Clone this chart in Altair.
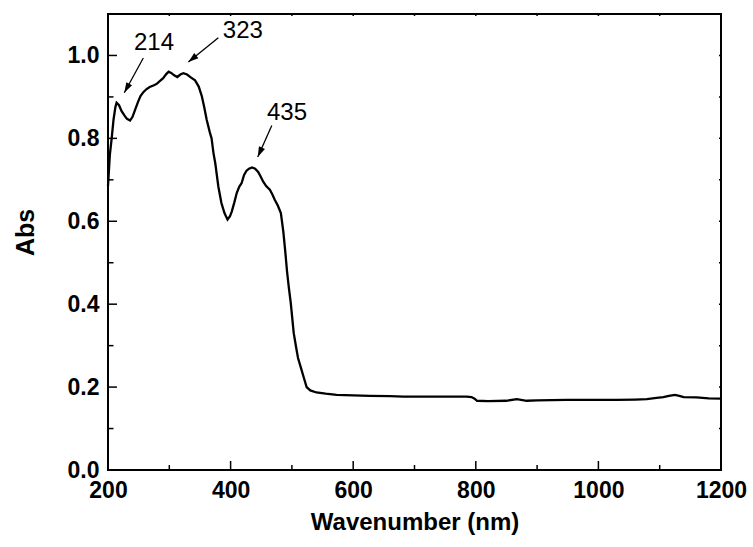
import altair as alt
import pandas as pd

# Absorption spectrum: wavelength (nm) and absorbance
wavelength = [200, 203, 206, 209, 212, 214, 218, 222, 227, 231, 236, 240, 244, 249, 253,
              258, 263, 268, 275, 280, 285, 290, 295, 299, 303, 308, 313, 318, 323, 329,
              335, 342, 348, 353, 357, 361, 366, 369, 372, 375, 380, 385, 390, 395, 399,
              402, 406, 410, 414, 418, 422, 426, 430, 435, 440, 445, 449, 453, 458, 464,
              468, 472, 477, 482, 486, 489, 492, 495, 498, 503, 507, 510, 515, 519, 524,
              530, 540, 555, 573, 600, 627, 660, 682, 710, 750, 785, 793, 798, 802, 820,
              850, 867, 883, 900, 948, 1000, 1030, 1060, 1079, 1095, 1106, 1115, 1125, 1132,
              1139, 1160, 1180, 1200]
absorbance = [0.685, 0.760, 0.800, 0.845, 0.875, 0.886, 0.880, 0.866, 0.855, 0.847, 0.843,
              0.852, 0.868, 0.888, 0.902, 0.912, 0.919, 0.924, 0.928, 0.932, 0.939, 0.945,
              0.955, 0.961, 0.958, 0.952, 0.948, 0.954, 0.957, 0.954, 0.947, 0.940, 0.925,
              0.902, 0.875, 0.845, 0.815, 0.800, 0.765, 0.740, 0.684, 0.644, 0.620, 0.604,
              0.612, 0.624, 0.645, 0.668, 0.683, 0.692, 0.712, 0.722, 0.727, 0.730, 0.727,
              0.719, 0.708, 0.696, 0.685, 0.676, 0.665, 0.652, 0.638, 0.620, 0.575, 0.530,
              0.480, 0.440, 0.405, 0.330, 0.295, 0.270, 0.245, 0.225, 0.200, 0.192, 0.187,
              0.184, 0.181, 0.180, 0.179, 0.178, 0.177, 0.177, 0.177, 0.177, 0.176, 0.172,
              0.167, 0.166, 0.167, 0.171, 0.167, 0.168, 0.169, 0.169, 0.169, 0.170, 0.171,
              0.174, 0.176, 0.179, 0.181, 0.179, 0.176, 0.175, 0.173, 0.172]

# Peak annotations: label text position and arrow start/end
peak_labels = ["214", "323", "435"]
label_x = [275, 420, 492]
label_y = [1.031, 1.058, 0.862]
arrow_x1 = [257.6, 380.0, 467.2]
arrow_y1 = [0.994, 1.043, 0.831]
arrow_x2 = [226.6, 331.1, 444.3]
arrow_y2 = [0.910, 0.984, 0.755]
arrow_angle = [208.5, 230.9, 204.1]

x_major = [200, 400, 600, 800, 1000, 1200]
x_minor = [300, 500, 700, 900, 1100]
x_all = list(range(200, 1201, 100))
y_major = [0.0, 0.2, 0.4, 0.6, 0.8, 1.0]
y_minor = [0.1, 0.3, 0.5, 0.7, 0.9]
y_all = [round(0.1 * i, 1) for i in range(0, 12)]

X_DOM = [200, 1200]
Y_DOM = [0, 1.1]
W, H = 613, 456
FONT = "Liberation Sans"

# data units per pixel, used to turn tick lengths into scale units
DX = (X_DOM[1] - X_DOM[0]) / W
DY = (Y_DOM[1] - Y_DOM[0]) / H

spec = pd.DataFrame({"nm": wavelength, "abs": absorbance})
ann = pd.DataFrame({"label": peak_labels, "lx": label_x, "ly": label_y,
                    "x1": arrow_x1, "y1": arrow_y1, "x2": arrow_x2, "y2": arrow_y2,
                    "angle": arrow_angle})

xs = alt.Scale(domain=X_DOM, nice=False, zero=False)
ys = alt.Scale(domain=Y_DOM, nice=False)

x_axis = alt.Axis(values=x_major, format="d", title="Wavenumber (nm)", grid=False,
                  domain=False, ticks=False, labelFlush=False, labelFont=FONT,
                  labelFontSize=23, labelFontWeight="bold", labelColor="black",
                  labelPadding=9, titleFont=FONT, titleFontSize=24, titleFontWeight="bold",
                  titleColor="black", titleY=52, titleBaseline="middle")
y_axis = alt.Axis(values=y_major, format=".1f", title="Abs", grid=False, domain=False,
                  ticks=False, labelFlush=False, labelFont=FONT, labelFontSize=23,
                  labelFontWeight="bold", labelColor="black", labelPadding=9,
                  titleFont=FONT, titleFontSize=25, titleFontWeight="bold",
                  titleColor="black", titleX=-83, titleY=218, titleBaseline="middle",
                  titleAlign="center")

curve = alt.Chart(spec).mark_line(color="black", strokeWidth=2.3).encode(
    x=alt.X("nm:Q", scale=xs, axis=x_axis),
    y=alt.Y("abs:Q", scale=ys, axis=y_axis),
)


def xticks(vals, base, length_px):
    df = pd.DataFrame({"tx": vals, "ty0": [base] * len(vals),
                       "ty1": [base + length_px * DY] * len(vals)})
    return alt.Chart(df).mark_rule(color="black", strokeWidth=1.5).encode(
        x=alt.X("tx:Q", scale=xs), y=alt.Y("ty0:Q", scale=ys), y2="ty1:Q")


def yticks(vals, base, length_px):
    df = pd.DataFrame({"ty": vals, "tx0": [base] * len(vals),
                       "tx1": [base + length_px * DX] * len(vals)})
    return alt.Chart(df).mark_rule(color="black", strokeWidth=1.5).encode(
        y=alt.Y("ty:Q", scale=ys), x=alt.X("tx0:Q", scale=xs), x2="tx1:Q")


ticks = [
    xticks(x_major, Y_DOM[0], 9), xticks(x_minor, Y_DOM[0], 5),
    xticks(x_all, Y_DOM[1], -2),
    yticks(y_major, X_DOM[0], 9), yticks(y_minor, X_DOM[0], 5.5),
    yticks(y_all, X_DOM[1], -2),
]

labels = alt.Chart(ann).mark_text(font=FONT, fontSize=24, color="black",
                                  baseline="middle", align="center").encode(
    x=alt.X("lx:Q", scale=xs), y=alt.Y("ly:Q", scale=ys), text="label:N")

shafts = alt.Chart(ann).mark_rule(color="black", strokeWidth=1.3).encode(
    x=alt.X("x1:Q", scale=xs), y=alt.Y("y1:Q", scale=ys),
    x2="x2:Q", y2="y2:Q")

heads = alt.Chart(ann).mark_point(shape="M0,0L0.32,1L-0.32,1Z", filled=True,
                                  color="black", opacity=1, size=420).encode(
    x=alt.X("x2:Q", scale=xs), y=alt.Y("y2:Q", scale=ys),
    angle=alt.Angle("angle:Q", scale=None))

chart = alt.layer(curve, *ticks, shafts, heads, labels).properties(
    width=W, height=H,
    autosize=alt.AutoSizeParams(type="none"),
    padding={"left": 108, "top": 14, "right": 32, "bottom": 77},
).configure(
    background="white",
    view=alt.ViewConfig(stroke="black", strokeWidth=2),
)

chart.save("out.html", embed_options={"renderer": "svg", "actions": False})
